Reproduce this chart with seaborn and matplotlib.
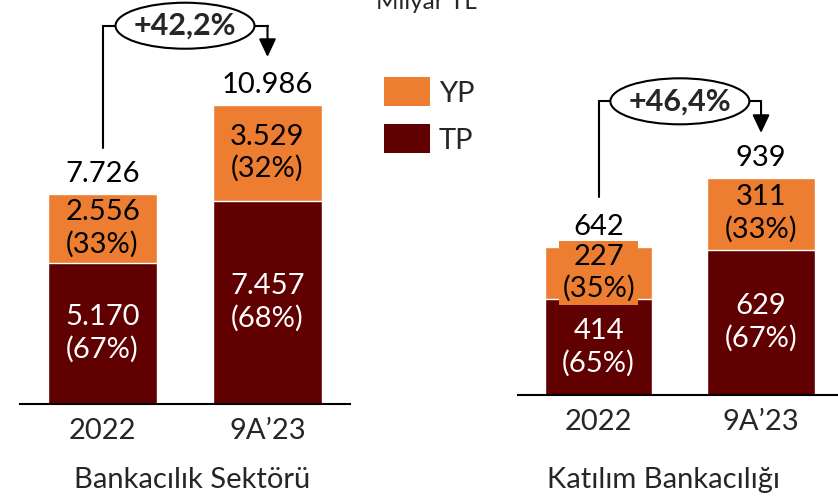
import matplotlib
matplotlib.use("Agg")
import matplotlib.pyplot as plt
import seaborn as sns
import pandas as pd
from matplotlib.patches import Patch, Ellipse

sns.set_style("white")
plt.rcParams['font.family'] = ['Lato', 'DejaVu Sans']

# ---- data ----
periods = ["2022", "9A\u201923"]
sector_tp = [5170, 7457]
sector_yp = [2556, 3529]
sector_total = [7726, 10986]
sector_tp_pct = ["67%", "68%"]
sector_yp_pct = ["33%", "32%"]
sector_growth = "+42,2%"

part_tp = [414, 629]
part_yp = [227, 311]
part_total = [642, 939]
part_tp_pct = ["65%", "67%"]
part_yp_pct = ["35%", "33%"]
part_growth = "+46,4%"

panel_titles = ["Bankac\u0131l\u0131k Sekt\u00f6r\u00fc", "Kat\u0131l\u0131m Bankac\u0131l\u0131\u011f\u0131"]
legend_labels = ["YP", "TP"]
unit_label = "Milyar TL"

ORANGE = "#ED7D31"
DARK = "#600000"
FS = 21

def fmt(v):
    return f"{v:,}".replace(",", ".")

W, H = 838, 500
fig = plt.figure(figsize=(W / 100, H / 100), dpi=100)

def px_axes(x0, base_y, w, h):
    return fig.add_axes([x0 / W, (H - base_y) / H, w / W, h / H]), w, h

ax1, w1, h1 = px_axes(20, 404, 330, 381)
ax2, w2, h2 = px_axes(517.5, 395, 320.5, 370)

def draw_panel(ax, wpx, hpx, tp, yp, total, tp_pct, yp_pct, ylim, xmax, growth,
               line_start, level, tip, box_first_label):
    df = pd.DataFrame({"period": periods, "total": total, "tp": tp})
    sns.barplot(data=df, x="period", y="total", color=ORANGE, saturation=1,
                width=0.66, errorbar=None, ax=ax, order=periods)
    sns.barplot(data=df, x="period", y="tp", color=DARK, saturation=1,
                width=0.66, errorbar=None, ax=ax, order=periods)
    ax.set_ylim(0, ylim)
    ax.set_xlim(-0.5, xmax)
    for s in ["top", "right", "left"]:
        ax.spines[s].set_visible(False)
    ax.spines["bottom"].set_color("black")
    ax.spines["bottom"].set_linewidth(1.5)
    ax.set_yticks([])
    ax.set_xlabel("")
    ax.set_ylabel("")
    ax.tick_params(axis="x", length=0, pad=10, labelsize=FS)
    for i in range(len(periods)):
        ax.text(i, tp[i] / 2, f"{fmt(tp[i])}\n({tp_pct[i]})", ha="center", va="center",
                color="white", fontsize=FS, linespacing=1.25)
        kw = {}
        if box_first_label and i == 0:
            kw["bbox"] = dict(boxstyle="square,pad=0.1", fc=ORANGE, ec="none")
        ax.text(i, tp[i] + yp[i] / 2, f"{fmt(yp[i])}\n({yp_pct[i]})", ha="center", va="center",
                color="black", fontsize=FS, linespacing=1.25, **kw)
        ax.annotate(fmt(total[i]), xy=(i, total[i]), xytext=(0, 5), textcoords="offset points",
                    ha="center", va="bottom", fontsize=FS, color="black", annotation_clip=False)
    # growth connector
    ax.plot([0, 0, 1], [line_start, level, level], color="black", lw=1.5, clip_on=False,
            solid_joinstyle="miter", zorder=5)
    ax.annotate("", xy=(1, tip), xytext=(1, level),
                arrowprops=dict(arrowstyle="-|>,head_length=0.55,head_width=0.26", color="black",
                                lw=1.5, shrinkA=0, shrinkB=0, mutation_scale=20),
                annotation_clip=False, zorder=5)
    xr = xmax + 0.5
    ell = Ellipse((0.5, level), width=139 / (wpx / xr), height=46 / (hpx / ylim),
                  fc="white", ec="black", lw=1.5, clip_on=False, zorder=8)
    ax.add_patch(ell)
    ax.text(0.5, level, growth, ha="center", va="center", fontsize=22, fontweight="bold",
            zorder=10, clip_on=False)

draw_panel(ax1, w1, h1, sector_tp, sector_yp, sector_total, sector_tp_pct, sector_yp_pct,
           14000, 1.5, sector_growth, 9400, 13900, 12750, False)
draw_panel(ax2, w2, h2, part_tp, part_yp, part_total, part_tp_pct, part_yp_pct,
           1600, 1.474, part_growth, 855, 1270, 1133, True)

fig.text(192 / W, 1 - 480 / H, panel_titles[0], ha="center", va="center", fontsize=FS)
fig.text(663 / W, 1 - 480 / H, panel_titles[1], ha="center", va="center", fontsize=FS)
fig.text(426 / W, 1 - 9 / H, unit_label, ha="center", va="baseline", fontsize=17.5)

handles = [Patch(facecolor=ORANGE, edgecolor="none"), Patch(facecolor=DARK, edgecolor="none")]
fig.legend(handles, legend_labels, loc="upper left", bbox_to_anchor=(384 / W, 1 - 77 / H),
           frameon=False, fontsize=FS, handlelength=1.58, handleheight=1.17,
           labelspacing=0.6, handletextpad=0.3, borderpad=0, borderaxespad=0)

fig.savefig("out.png", dpi=100)
